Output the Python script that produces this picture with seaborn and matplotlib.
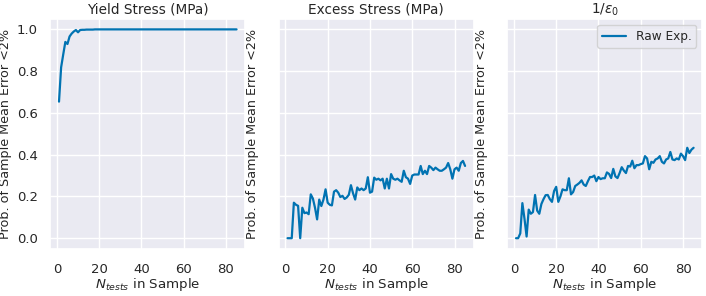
import numpy as np
import pandas as pd
import matplotlib
matplotlib.use("Agg")
import matplotlib.pyplot as plt
import seaborn as sns

n_tests = list(range(1, 86))

yield_stress = [0.654, 0.818, 0.88, 0.94, 0.93, 0.966, 0.98, 0.99, 0.997, 0.986,
                0.997, 0.998, 0.998, 0.999, 0.999, 0.999, 0.999, 1.0] + [1.0] * 67

excess_stress = [0.0, 0.0, 0.0, 0.17, 0.16, 0.155, 0.0, 0.146, 0.12, 0.123,
                 0.115, 0.21, 0.19, 0.146, 0.09, 0.185, 0.154, 0.185, 0.234, 0.17,
                 0.16, 0.157, 0.223, 0.23, 0.218, 0.197, 0.203, 0.188, 0.195, 0.208,
                 0.254, 0.215, 0.185, 0.243, 0.23, 0.238, 0.23, 0.238, 0.292, 0.218,
                 0.223, 0.29, 0.28, 0.285, 0.277, 0.285, 0.238, 0.285, 0.238, 0.307,
                 0.285, 0.28, 0.285, 0.277, 0.27, 0.323, 0.292, 0.285, 0.26, 0.3,
                 0.305, 0.305, 0.305, 0.346, 0.307, 0.323, 0.307, 0.346, 0.338, 0.326,
                 0.338, 0.33, 0.323, 0.323, 0.33, 0.338, 0.36, 0.33, 0.285, 0.33,
                 0.338, 0.323, 0.36, 0.37, 0.346]

inv_eps0 = [0.0, 0.0, 0.023, 0.168, 0.093, 0.008, 0.137, 0.117, 0.125, 0.207,
            0.132, 0.117, 0.164, 0.187, 0.206, 0.207, 0.187, 0.174, 0.226, 0.246,
            0.174, 0.2, 0.234, 0.23, 0.23, 0.287, 0.21, 0.221, 0.25, 0.257,
            0.265, 0.277, 0.257, 0.25, 0.273, 0.293, 0.293, 0.3, 0.273, 0.293,
            0.283, 0.287, 0.287, 0.315, 0.308, 0.288, 0.332, 0.296, 0.288, 0.312,
            0.34, 0.324, 0.312, 0.346, 0.343, 0.371, 0.335, 0.35, 0.35, 0.355,
            0.358, 0.393, 0.382, 0.33, 0.366, 0.361, 0.377, 0.382, 0.393, 0.366,
            0.358, 0.377, 0.382, 0.413, 0.377, 0.374, 0.382, 0.377, 0.405, 0.393,
            0.374, 0.433, 0.408, 0.424, 0.433]

titles = ["Yield Stress (MPa)", "Excess Stress (MPa)", r"1/$\varepsilon_0$"]
series = [yield_stress, excess_stress, inv_eps0]
legend_label = "Raw Exp."

sns.set_theme(style="darkgrid", palette="colorblind")
plt.rcParams["font.family"] = ["DejaVu Sans"]

fig, axes = plt.subplots(1, 3, figsize=(7.06, 2.96), dpi=100)
color = sns.color_palette("colorblind")[0]

for i, (ax, title, vals) in enumerate(zip(axes, titles, series)):
    df = pd.DataFrame({"n": n_tests, "p": vals})
    sns.lineplot(data=df, x="n", y="p", ax=ax, color=color, linewidth=1.6,
                 label=legend_label if i == 2 else None)
    ax.set_title(title, fontsize=9.8, pad=4)
    ax.set_xticks([0, 20, 40, 60, 80])
    ax.set_yticks([0.0, 0.2, 0.4, 0.6, 0.8, 1.0])
    ax.set_ylim(-0.05, 1.05)
    ax.tick_params(axis="x", labelsize=9.5, pad=4.5)
    ax.tick_params(axis="y", labelsize=9.5, pad=3)
    ax.set_xlabel(r"$N_{tests}$ in Sample", fontsize=9.6, labelpad=0)
    if i > 0:
        ax.set_yticklabels([])
    ax.set_ylabel("Prob. of Sample Mean Error <2%", fontsize=9.2,
                  labelpad=3 if i == 0 else 5)

leg = axes[2].legend(loc="upper right", fontsize=8.7, frameon=True)

fig.subplots_adjust(left=0.071, right=0.995, top=0.936, bottom=0.16, wspace=0.17)
fig.savefig("out.png", dpi=100)
